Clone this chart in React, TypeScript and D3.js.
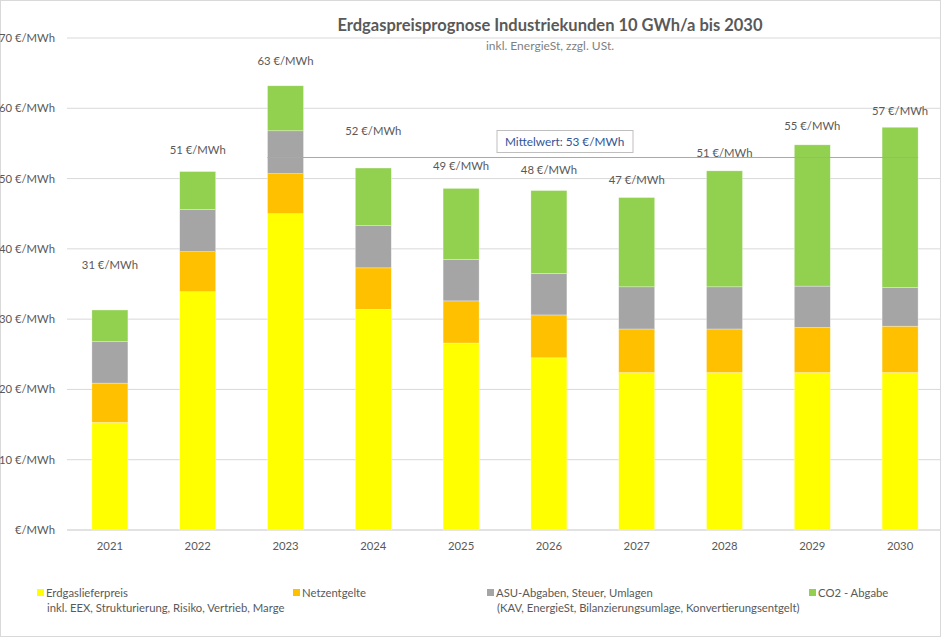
import * as d3 from "d3";

const years = ["2021", "2022", "2023", "2024", "2025", "2026", "2027", "2028", "2029", "2030"];
const lieferpreis = [15.3, 33.9, 45.0, 31.4, 26.6, 24.5, 22.4, 22.4, 22.4, 22.4];
const netzentgelte = [5.6, 5.7, 5.7, 5.9, 6.0, 6.1, 6.2, 6.2, 6.4, 6.6];
const asuAbgaben = [5.9, 6.0, 6.1, 6.0, 5.9, 5.9, 6.0, 6.0, 5.9, 5.5];
const co2Abgabe = [4.5, 5.4, 6.4, 8.2, 10.1, 11.8, 12.7, 16.5, 20.1, 22.8];
const totalLabels = [31, 51, 63, 52, 49, 48, 47, 51, 55, 57];
// label anchors (in €/MWh) – placed by hand in the original
const labelLevels = [37.7, 54.0, 66.7, 56.7, 51.8, 51.2, 49.8, 53.6, 57.5, 59.6];
const mittelwert = 53;
const yTicks = [0, 10, 20, 30, 40, 50, 60, 70];

const W = 944;
const H = 639;
const FONT = "Lato, 'Open Sans', sans-serif";
const TXT = "#595959";
const FS = 11.3;

const series = [
  { key: "liefer", name: "Erdgaslieferpreis", sub: "inkl. EEX, Strukturierung, Risiko, Vertrieb, Marge", color: "#FFFF00", values: lieferpreis, lx: 37 },
  { key: "netz", name: "Netzentgelte", sub: "", color: "#FFC000", values: netzentgelte, lx: 293 },
  { key: "asu", name: "ASU-Abgaben, Steuer, Umlagen", sub: "(KAV, EnergieSt, Bilanzierungsumlage, Konvertierungsentgelt)", color: "#A5A5A5", values: asuAbgaben, lx: 487 },
  { key: "co2", name: "CO2 - Abgabe", sub: "", color: "#92D050", values: co2Abgabe, lx: 809 },
];

export default function App() {
  const x = d3.scaleBand<string>().domain(years).range([66, 944]).paddingInner(0.59).paddingOuter(0.295);
  const y = d3.scaleLinear().domain([0, 70]).range([530, 38]);

  const rows = years.map((yr, i) => {
    const r: Record<string, number | string> = { year: yr };
    series.forEach((s) => (r[s.key] = s.values[i]));
    return r;
  });
  const stacked = d3.stack<Record<string, number | string>>().keys(series.map((s) => s.key))(rows);

  const meanX1 = x("2023")!;
  const meanX2 = x("2030")! + x.bandwidth();

  return (
    <svg width={W} height={H} style={{ position: "absolute", left: 0, top: 0, background: "#fff" }} fontFamily={FONT}>
      <rect x={0.5} y={0.5} width={940} height={636} fill="#fff" stroke="#d9d9d9" />

      <text x={550} y={31} textAnchor="middle" fontSize={16.5} fontWeight="bold" fill={TXT}>
        Erdgaspreisprognose Industriekunden 10 GWh/a bis 2030
      </text>
      <text x={550} y={50} textAnchor="middle" fontSize={12} fill="#7f7f7f">
        inkl. EnergieSt, zzgl. USt.
      </text>

      {yTicks.map((t) => (
        <g key={t}>
          <line x1={67} x2={940} y1={y(t)} y2={y(t)} stroke="#d9d9d9" strokeWidth={t === 0 ? 1.5 : 1} />
          <text x={55} y={y(t)} dy="0.35em" textAnchor="end" fontSize={FS} fill={TXT}>
            {t === 0 ? "€/MWh" : `${t} €/MWh`}
          </text>
        </g>
      ))}

      {stacked.map((layer, li) => (
        <g key={layer.key} fill={series[li].color}>
          {layer.map((d, i) => (
            <rect
              key={years[i]}
              x={x(years[i])}
              y={y(d[1])}
              width={x.bandwidth()}
              height={y(d[0]) - y(d[1])}
              stroke="#ffffff"
              strokeOpacity={0.5}
              strokeWidth={0.6}
            />
          ))}
        </g>
      ))}

      {years.map((yr) => (
        <text key={yr} x={x(yr)! + x.bandwidth() / 2} y={546} dy="0.35em" textAnchor="middle" fontSize={FS} fill={TXT}>
          {yr}
        </text>
      ))}

      {years.map((yr, i) => (
        <text key={"l" + yr} x={x(yr)! + x.bandwidth() / 2} y={y(labelLevels[i])} dy="0.35em" textAnchor="middle" fontSize={FS} fill={TXT}>
          {`${totalLabels[i]} €/MWh`}
        </text>
      ))}

      <line x1={meanX1} x2={meanX2} y1={y(mittelwert)} y2={y(mittelwert)} stroke="#8FAADC" strokeWidth={1} />
      <rect x={497} y={130.5} width={136} height={22} fill="#fff" stroke="#bfbfbf" />
      <text x={505} y={141.5} dy="0.35em" fontSize={11.8} fill="#2F5597">
        {`Mittelwert: ${mittelwert} €/MWh`}
      </text>

      {series.map((s) => (
        <g key={s.key}>
          <rect x={s.lx} y={589} width={7} height={7} fill={s.color} />
          <text x={s.lx + 9} y={593} dy="0.35em" fontSize={FS} fill={TXT}>
            {s.name}
          </text>
          {s.sub && (
            <text x={s.lx + 10} y={608} dy="0.35em" fontSize={FS} fill={TXT}>
              {s.sub}
            </text>
          )}
        </g>
      ))}
    </svg>
  );
}
